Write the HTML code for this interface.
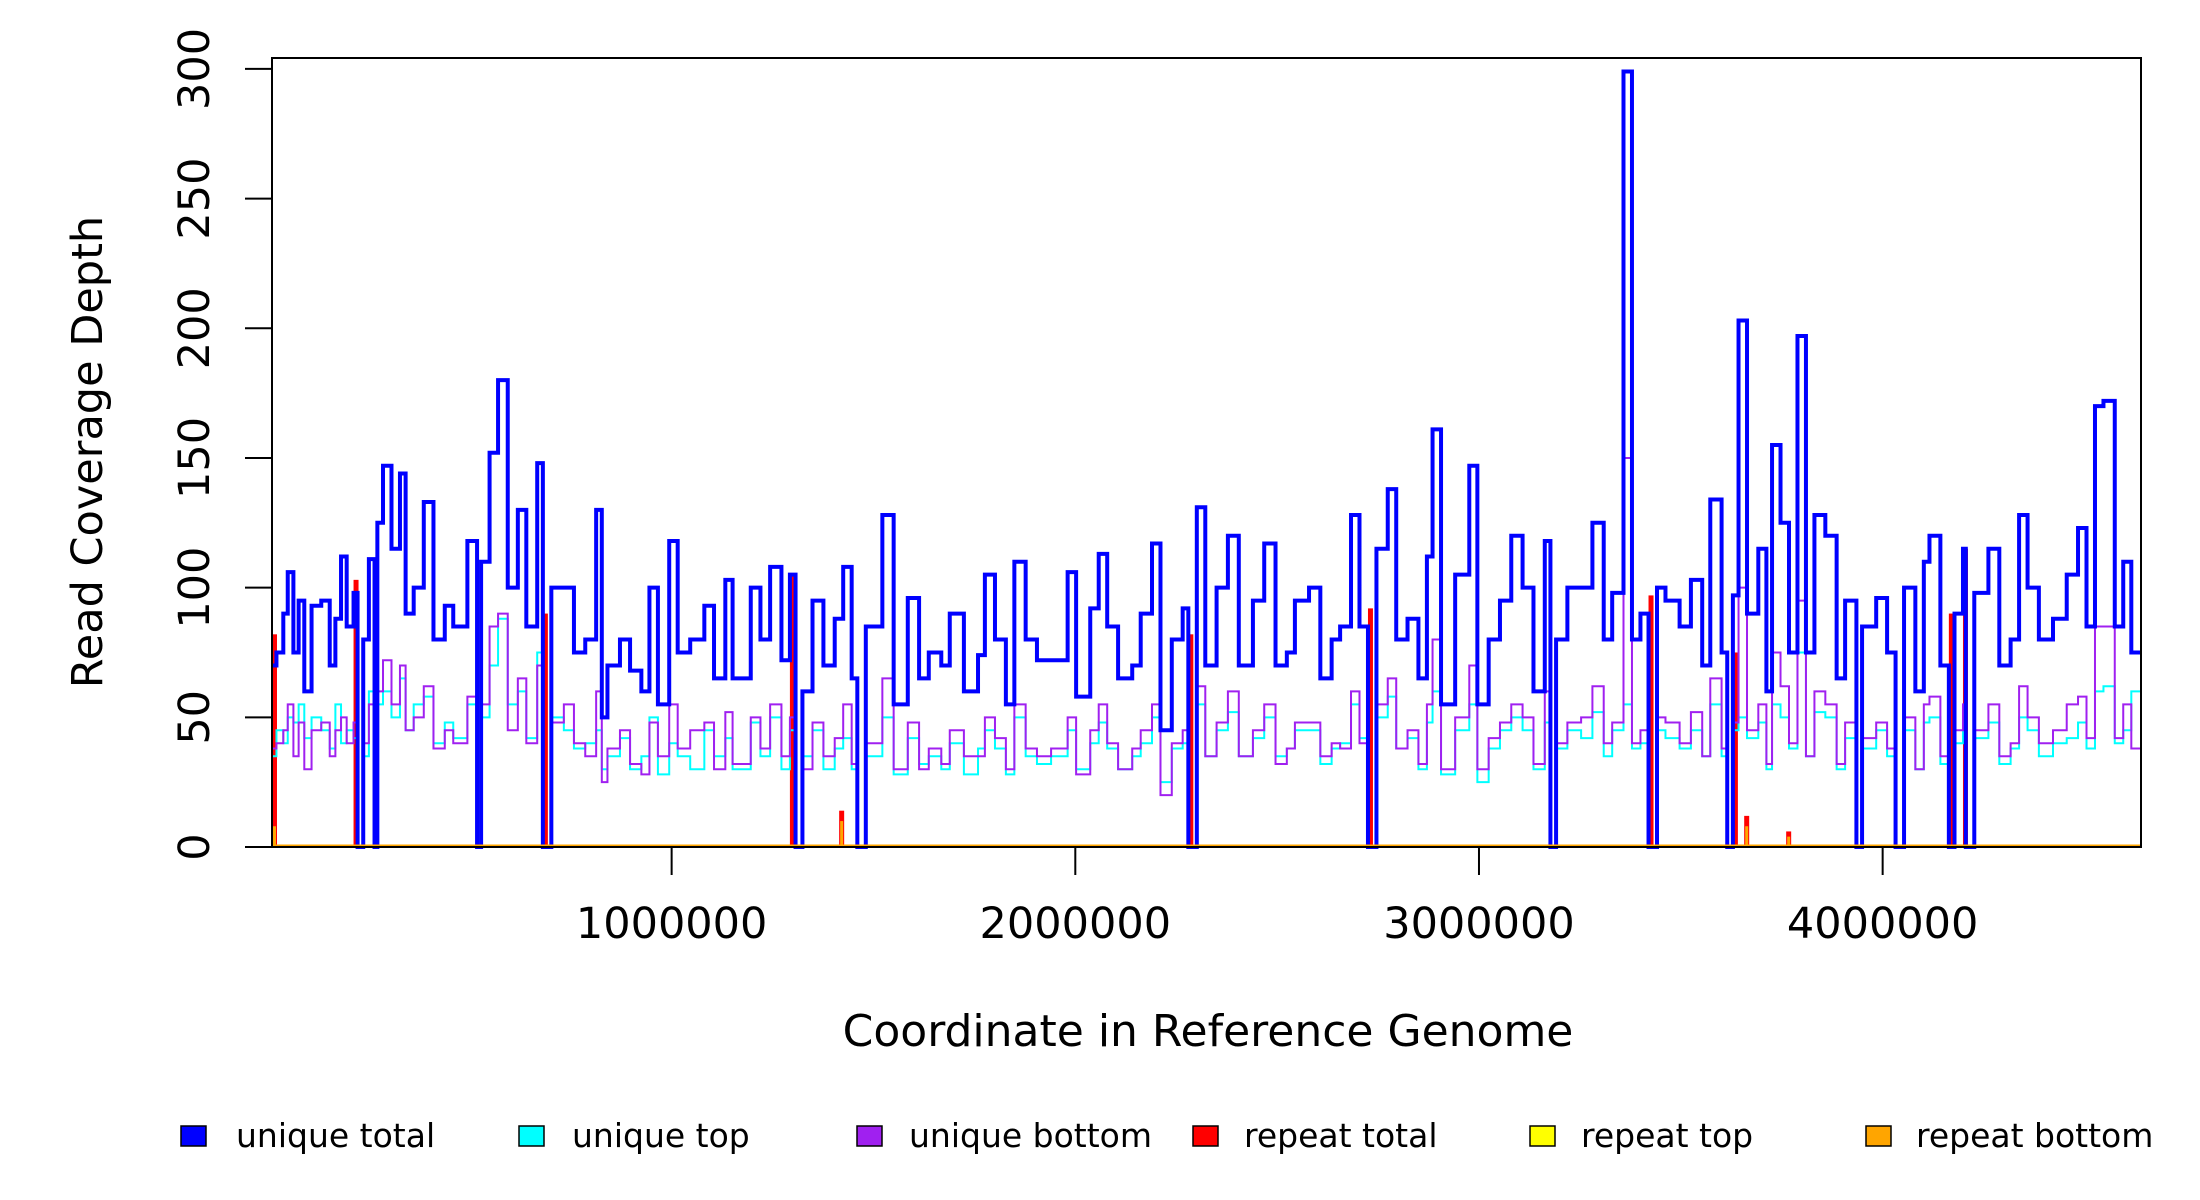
<!DOCTYPE html>
<html><head><meta charset="utf-8"><style>
body{margin:0;background:#fff}
svg{display:block;font-family:"DejaVu Sans","Liberation Sans",sans-serif}
</style></head><body>
<svg id="chart" width="2200" height="1200" viewBox="0 0 2200 1200">
<rect x="0" y="0" width="2200" height="1200" fill="#fff"/>
<g id="marks"></g>
<rect x="272" y="58" width="1869" height="789" fill="none" stroke="#000" stroke-width="2"/>
<g id="axes"></g>
<text x="102" y="452" font-size="43" text-anchor="middle" transform="rotate(-90 102 452)">Read Coverage Depth</text>
<text x="1208" y="1046" font-size="44" text-anchor="middle">Coordinate in Reference Genome</text>
<g font-size="33">
 <g><rect x="181" y="1126" width="25" height="20" fill="#0000ff" stroke="#000" stroke-width="1.5"/><text x="236" y="1147">unique total</text></g>
 <g><rect x="519" y="1126" width="25" height="20" fill="#00ffff" stroke="#000" stroke-width="1.5"/><text x="572" y="1147">unique top</text></g>
 <g><rect x="857" y="1126" width="25" height="20" fill="#a020f0" stroke="#000" stroke-width="1.5"/><text x="909" y="1147">unique bottom</text></g>
 <g><rect x="1193" y="1126" width="25" height="20" fill="#ff0000" stroke="#000" stroke-width="1.5"/><text x="1244" y="1147">repeat total</text></g>
 <g><rect x="1530" y="1126" width="25" height="20" fill="#ffff00" stroke="#000" stroke-width="1.5"/><text x="1581" y="1147">repeat top</text></g>
 <g><rect x="1866" y="1126" width="25" height="20" fill="#ffa500" stroke="#000" stroke-width="1.5"/><text x="1916" y="1147">repeat bottom</text></g>
</g>
</svg>
<script>
const binStartKb = [0,21,38,49,63,76,90,108,132,153,
167,181,195,212,222,236,250,264,271,285,
306,327,341,361,386,410,438,459,494,518,
528,549,570,594,619,640,667,681,702,733,
758,786,813,827,841,872,897,925,945,966,
994,1015,1046,1081,1105,1133,1151,1196,1220,1244,
1272,1293,1307,1324,1349,1376,1404,1425,1446,1460,
1481,1522,1550,1585,1613,1637,1668,1689,1724,1759,
1776,1801,1828,1849,1877,1905,1940,1981,2002,2037,
2058,2079,2106,2141,2162,2190,2211,2239,2266,2280,
2301,2322,2350,2378,2405,2440,2468,2496,2524,2544,
2579,2607,2635,2656,2683,2704,2725,2746,2774,2795,
2823,2850,2871,2885,2906,2941,2976,2996,3024,3052,
3080,3108,3135,3163,3177,3191,3219,3253,3281,3309,
3330,3358,3379,3400,3420,3441,3462,3497,3525,3553,
3573,3601,3615,3629,3643,3664,3692,3712,3726,3747,
3768,3789,3810,3831,3858,3886,3907,3935,3949,3984,
4011,4032,4053,4081,4102,4116,4143,4164,4178,4199,
4206,4227,4262,4289,4317,4338,4359,4387,4422,4456,
4484,4505,4526,4547,4575,4596,4616];
const binEndKb = 4640;
const uniqueTotal = [70,75,90,106,75,95,60,93,95,70,
88,112,85,98,0,80,111,0,125,147,
115,144,90,100,133,80,93,85,118,0,
110,152,180,100,130,85,148,0,100,100,
75,80,130,50,70,80,68,60,100,55,
118,75,80,93,65,103,65,100,80,108,
72,105,0,60,95,70,88,108,65,0,
85,128,55,96,65,75,70,90,60,74,
105,80,55,110,80,72,72,106,58,92,
113,85,65,70,90,117,45,80,92,0,
131,70,100,120,70,95,117,70,75,95,
100,65,80,85,128,85,0,115,138,80,
88,65,112,161,55,105,147,55,80,95,
120,100,60,118,0,80,100,100,125,80,
98,299,80,90,0,100,95,85,103,70,
134,75,0,97,203,90,115,60,155,125,
75,197,75,128,120,65,95,0,85,96,
75,0,100,60,110,120,70,0,90,115,
0,98,115,70,80,128,100,80,88,105,
123,85,170,172,85,110,75];
const uniqueTop = [35,45,40,50,48,55,42,50,45,38,
55,40,45,42,0,35,60,0,55,60,
50,65,45,55,58,40,48,42,55,0,
50,70,88,55,60,42,75,0,50,45,
38,40,45,30,35,42,30,35,50,28,
40,35,30,45,35,42,30,48,35,50,
30,45,0,35,45,30,38,42,30,0,
35,50,28,42,32,35,30,40,28,38,
45,38,28,50,35,32,35,45,30,40,
48,38,30,35,40,50,25,38,40,0,
55,35,45,52,35,42,50,35,38,45,
45,32,38,40,55,42,0,50,58,38,
42,30,48,60,28,45,55,25,38,45,
50,45,30,48,0,38,45,42,52,35,
45,55,38,40,0,45,42,38,45,35,
55,35,0,45,50,42,48,30,55,50,
38,75,35,52,50,30,42,0,38,45,
35,0,45,30,48,50,32,0,40,48,
0,42,48,32,38,50,45,35,40,42,
48,38,60,62,40,45,60];
const uniqueBottom = [38,40,45,55,35,48,30,45,48,35,
45,50,40,48,0,40,55,0,60,72,
55,70,45,50,62,38,45,40,58,0,
55,85,90,45,65,40,70,0,48,55,
40,35,60,25,38,45,32,28,48,35,
55,38,45,48,30,52,32,50,38,55,
35,50,0,30,48,35,42,55,32,0,
40,65,30,48,30,38,32,45,35,35,
50,42,30,55,38,35,38,50,28,45,
55,40,30,38,45,55,20,40,45,0,
62,35,48,60,35,45,55,32,38,48,
48,35,40,38,60,40,0,55,65,38,
45,32,55,80,30,50,70,30,42,48,
55,50,32,60,0,40,48,50,62,40,
48,150,40,45,0,50,48,40,52,35,
65,38,0,48,100,45,55,32,75,62,
40,95,35,60,55,32,48,0,42,48,
38,0,50,30,55,58,35,0,45,55,
0,45,55,35,40,62,50,40,45,55,
58,42,85,85,42,55,38];
const repeatPosKb = [0,212,681,1293,1415,2280,2725,3420,3629,3657,3761,4164,4199];
const repeatTotal = [82,103,90,105,14,82,92,97,75,12,6,90,115];
const repeatBottomPosKb = [5,1415,3657,3761];
const repeatBottom = [8,10,8,4];
const xTicks = [1000000,2000000,3000000,4000000];
const yTicks = [0,50,100,150,200,250,300];

const NS='http://www.w3.org/2000/svg';
const X0=272,X1=2141,Y0=847,Y1=58;
const xDomain=[10,4640], yDomain=[0,304.2];
function xs(kb){return X0+(kb-xDomain[0])/(xDomain[1]-xDomain[0])*(X1-X0);}
function ys(v){return Y0-(v-yDomain[0])/(yDomain[1]-yDomain[0])*(Y0-Y1);}
const marks=document.getElementById('marks');
const axes=document.getElementById('axes');
function mk(tag,attrs,parent){const e=document.createElementNS(NS,tag);for(const k in attrs)e.setAttribute(k,attrs[k]);parent.appendChild(e);return e;}
function stepPath(vals){
  let d='';
  for(let i=0;i<vals.length;i++){
    const xa=Math.max(X0,xs(binStartKb[i]));
    const xb=xs(i+1<binStartKb.length?binStartKb[i+1]:binEndKb);
    d+=(i===0?'M'+xa+' '+ys(vals[i]):'V'+ys(vals[i]))+'H'+Math.min(X1,xb);
  }
  return d;
}
repeatPosKb.forEach((p,i)=>{
  const x=Math.max(X0,xs(p));
  const r=mk('rect',{x:x,y:ys(repeatTotal[i]),width:5,height:Y0-ys(repeatTotal[i]),fill:'#ff0000'},marks);
  
  
});
const pTop=mk('path',{d:stepPath(uniqueTop),fill:'none',stroke:'#00ffff','stroke-width':2},marks);


const pBot=mk('path',{d:stepPath(uniqueBottom),fill:'none',stroke:'#a020f0','stroke-width':2},marks);


const pTot=mk('path',{d:stepPath(uniqueTotal),fill:'none',stroke:'#0000ff','stroke-width':4},marks);


repeatBottomPosKb.forEach((p,i)=>{
  const x=Math.max(X0,xs(p));
  const r=mk('rect',{x:x+1,y:ys(repeatBottom[i]),width:3,height:Y0-ys(repeatBottom[i]),fill:'#ffa500'},marks);
  
  
});
const base=mk('line',{x1:X0,x2:X1,y1:Y0-1,y2:Y0-1,stroke:'#ffa500','stroke-width':3},marks);


xTicks.forEach(t=>{
  const x=xs(t/1000);
  const l=mk('line',{x1:x,x2:x,y1:Y0,y2:875,stroke:'#000','stroke-width':2},axes);
  
  
  const tx=mk('text',{x:x,y:938,'font-size':43,'text-anchor':'middle'},axes);
  tx.textContent=String(t);
  
  
});
yTicks.forEach(t=>{
  const y=ys(t);
  const l=mk('line',{x1:245,x2:X0,y1:y,y2:y,stroke:'#000','stroke-width':2},axes);
  
  
  const tx=mk('text',{x:209,y:y,'font-size':43,'text-anchor':'middle',transform:'rotate(-90 209 '+y+')'},axes);
  tx.textContent=String(t);
  
  
});
</script>
</body></html>
